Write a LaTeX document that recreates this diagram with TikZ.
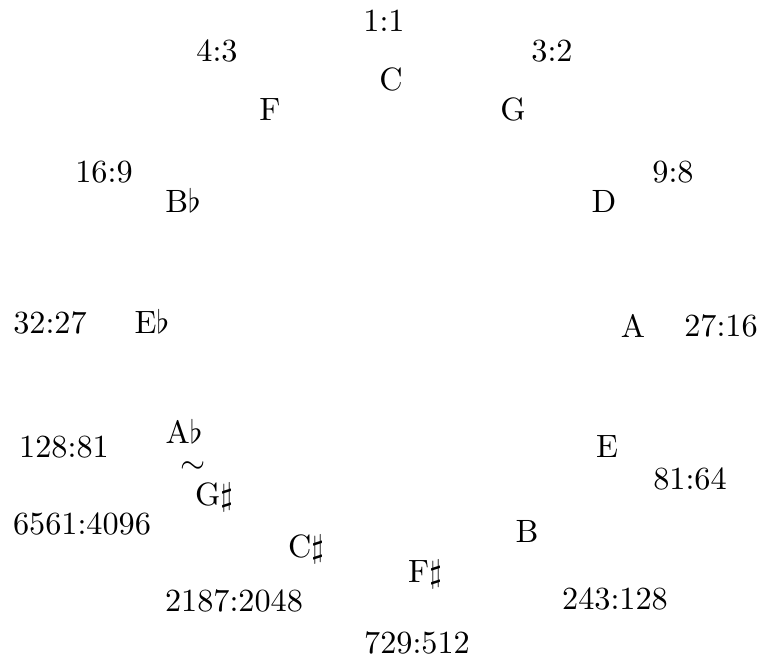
\documentclass[tikz,border=0pt]{standalone}
\begin{document}
\begin{tikzpicture}[x=0.31pt,y=-0.31pt,
  lbl/.style={inner sep=0pt,anchor=base}]
\useasboundingbox (0,0) rectangle (759,662);
% notes
\node[lbl] (C)  at (391,91)  {C};
\node[lbl] (G)  at (513,121) {G};
\node[lbl] (D)  at (604,213) {D};
\node[lbl] (A)  at (633,338) {A};
\node[lbl] (E)  at (607,458) {E};
\node[lbl] (B)  at (527,543) {B};
\node[lbl] (Fs) at (425,583) {F$\sharp$};
\node[lbl] (Cs) at (306,558) {C$\sharp$};
\node[lbl] (Gs) at (214,506) {G$\sharp$};
\node[inner sep=0pt] (sim) at (193,468) {$\sim$};
\node[lbl] (Ab) at (184,444) {A$\flat$};
\node[lbl] (Eb) at (152,334) {E$\flat$};
\node[lbl] (Bb) at (183,213) {B$\flat$};
\node[lbl] (F)  at (270,121) {F};
% ratios
\node[lbl] (r1)  at (384,32)  {1:1};
\node[lbl] (r2)  at (552,62)  {3:2};
\node[lbl] (r3)  at (673,183) {9:8};
\node[lbl] (r4)  at (721,337) {27:16};
\node[lbl] (r5)  at (690,490) {81:64};
\node[lbl] (r6)  at (615,610) {243:128};
\node[lbl] (r7)  at (417,653) {729:512};
\node[lbl] (r8)  at (234,612) {2187:2048};
\node[lbl] (r9)  at (82,535)  {6561:4096};
\node[lbl] (r10) at (64,458)  {128:81};
\node[lbl] (r11) at (50,334)  {32:27};
\node[lbl] (r12) at (104,183) {16:9};
\node[lbl] (r13) at (217,62)  {4:3};
\end{tikzpicture}
\end{document}
